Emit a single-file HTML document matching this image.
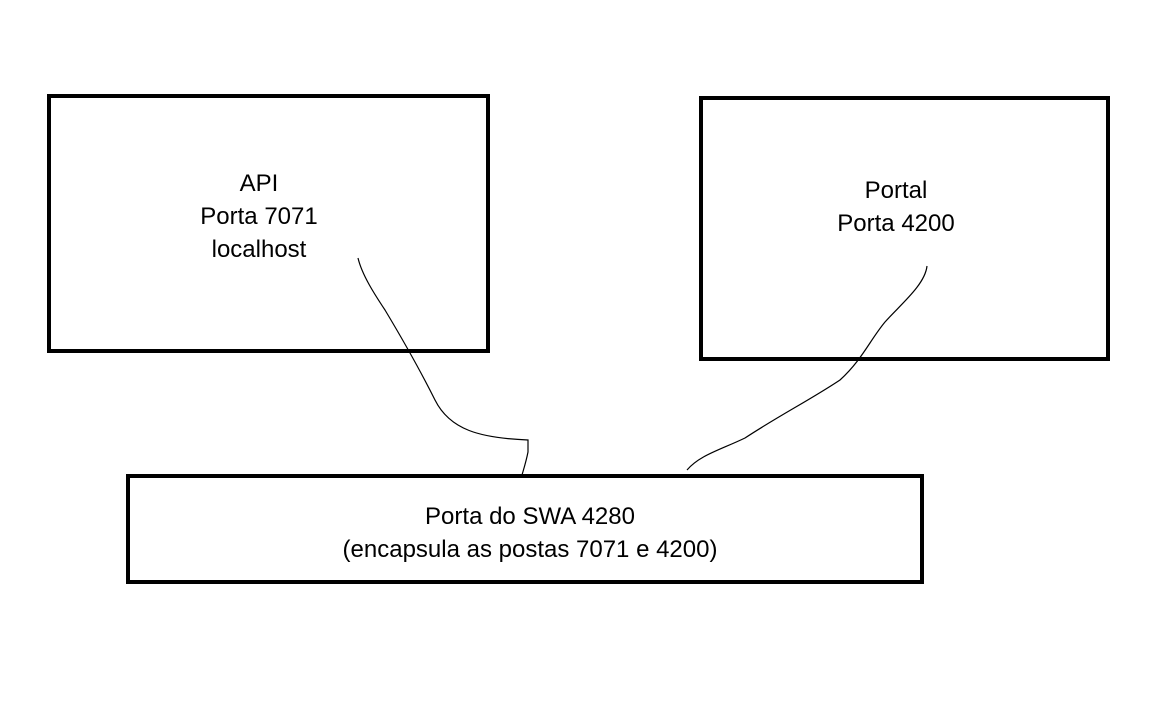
<!DOCTYPE html>
<html><head><meta charset="utf-8"><style>
html,body{margin:0;padding:0;background:#fff;}
body{width:1152px;height:720px;position:relative;overflow:hidden;font-family:"Liberation Sans",sans-serif;}
.box{position:absolute;border:4px solid #000;box-sizing:border-box;}
.t{position:absolute;font-size:24px;color:#000;text-align:center;line-height:33px;white-space:nowrap;}
</style></head><body>
<div class="box" style="left:47px;top:94px;width:443px;height:259px;"></div>
<div class="box" style="left:699px;top:96px;width:411px;height:265px;"></div>
<div class="box" style="left:126px;top:474px;width:798px;height:110px;"></div>
<div class="t" style="left:159px;top:167px;width:200px;">API<br>Porta 7071<br>localhost</div>
<div class="t" style="left:796px;top:174px;width:200px;">Portal<br>Porta 4200</div>
<div class="t" style="left:280px;top:500px;width:500px;">Porta do SWA 4280<br>(encapsula as postas 7071 e 4200)</div>
<svg width="1152" height="720" style="position:absolute;left:0;top:0">
<path d="M358 258 C362 275,375 295,385 310 C400 335,420 370,435 400 C450 430,480 438,528 440 L528 452 C526 462,524 468,522 475" fill="none" stroke="#000" stroke-width="1.2"/>
<path d="M927 266 C925 285,900 305,885 322 C870 340,862 360,840 380 C810 400,780 415,745 438 C720 450,700 455,687 470" fill="none" stroke="#000" stroke-width="1.2"/>
</svg>
</body></html>
